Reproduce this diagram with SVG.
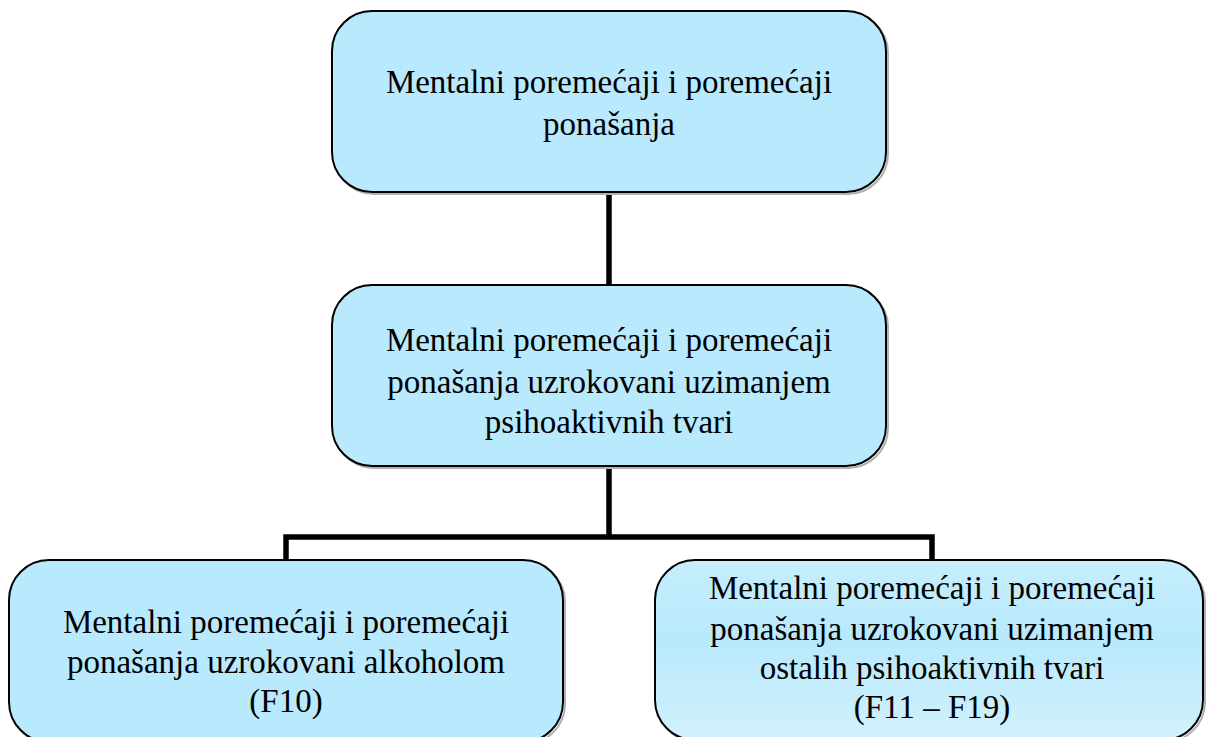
<svg xmlns="http://www.w3.org/2000/svg" width="1206" height="737" viewBox="0 0 1206 737">
<defs>
<linearGradient id="grad" x1="0" y1="0" x2="0" y2="1">
<stop offset="0" stop-color="#c6eefd"/>
<stop offset="0.45" stop-color="#b8e9fc"/>
<stop offset="1" stop-color="#d2f1fc"/>
</linearGradient>
</defs>
<style>
.box{fill:#b9e9fd;stroke:#000;stroke-width:2}
.shadow{fill:none;stroke:#b0b0b0;stroke-width:2}
.t{font-family:"Liberation Serif","Times New Roman",serif;font-size:33px;fill:#000;text-anchor:middle}
.conn{fill:none;stroke:#000;stroke-width:5.5;stroke-linejoin:miter}
</style>
<rect width="1206" height="737" fill="#fff"/>
<g id="connectors">
<path class="conn" d="M609 192 V285"/>
<path class="conn" d="M609 466 V537 M286 560 V537 H932 V560"/>
</g>
<g id="node-top">
<rect class="shadow" x="334" y="13" width="554" height="181" rx="40"/>
<rect class="box" x="332" y="11" width="554" height="181" rx="40"/>
<text class="t" x="609" y="93">Mentalni poremećaji i poremećaji</text>
<text class="t" x="609" y="135">ponašanja</text>
</g>
<g id="node-middle">
<rect class="shadow" x="334" y="287" width="554" height="181" rx="40"/>
<rect class="box" x="332" y="285" width="554" height="181" rx="40"/>
<text class="t" x="609" y="351">Mentalni poremećaji i poremećaji</text>
<text class="t" x="609" y="393">ponašanja uzrokovani uzimanjem</text>
<text class="t" x="609" y="433">psihoaktivnih tvari</text>
</g>
<g id="node-left">
<rect class="shadow" x="11" y="562" width="554" height="182" rx="40"/>
<rect class="box" x="9" y="560" width="554" height="182" rx="40"/>
<text class="t" x="286" y="633">Mentalni poremećaji i poremećaji</text>
<text class="t" x="286" y="673">ponašanja uzrokovani alkoholom</text>
<text class="t" x="286" y="712">(F10)</text>
</g>
<g id="node-right">
<rect class="shadow" x="657" y="562" width="548" height="180" rx="40"/>
<rect class="box" x="655" y="560" width="548" height="180" rx="40" style="fill:url(#grad)"/>
<text class="t" x="932" y="599">Mentalni poremećaji i poremećaji</text>
<text class="t" x="932" y="640">ponašanja uzrokovani uzimanjem</text>
<text class="t" x="932" y="679">ostalih psihoaktivnih tvari</text>
<text class="t" x="932" y="718">(F11 – F19)</text>
</g>
</svg>
